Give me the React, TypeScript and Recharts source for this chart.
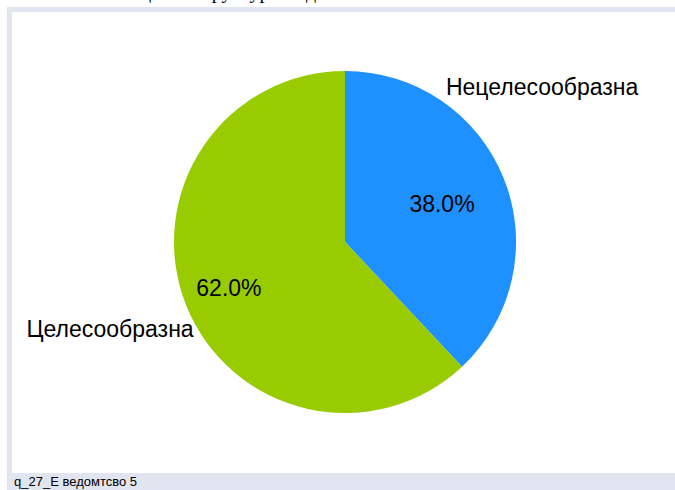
import { PieChart, Pie, Cell } from 'recharts'

const categories = ['Нецелесообразна', 'Целесообразна']
const shares = [38.0, 62.0]
const COLORS = ['#1e90ff', '#99cc00']

const data = categories.map((name, i) => ({ name, value: shares[i] }))

const RAD = Math.PI / 180

// outer label spots, relative to radius
const OUTER = [
  { dx: 0.59, dy: -0.905, anchor: 'start' },
  { dx: -0.885, dy: 0.51, anchor: 'end' },
]
const INNER_R = [0.61, 0.73]

function renderLabel(props: any) {
  const { cx, cy, midAngle, outerRadius, index, value } = props
  const ir = outerRadius * INNER_R[index]
  const ix = cx + ir * Math.cos(-midAngle * RAD)
  const iy = cy + ir * Math.sin(-midAngle * RAD)
  const o = OUTER[index]
  return (
    <g>
      <text x={ix} y={iy} textAnchor="middle" dominantBaseline="central" fontSize={23} fill="#000">
        {value.toFixed(1)}%
      </text>
      <text
        x={cx + o.dx * outerRadius}
        y={cy + o.dy * outerRadius}
        textAnchor={o.anchor}
        dominantBaseline="central"
        fontSize={23}
        fill="#000"
      >
        {categories[index]}
      </text>
    </g>
  )
}

export default function App() {
  return (
    <div style={{ position: 'absolute', left: 0, top: 0, width: 675, height: 490, background: '#fff', overflow: 'hidden', fontFamily: 'Arial, "Liberation Sans", sans-serif' }}>
      <div style={{ position: 'absolute', left: 0, top: -20, width: 500, textAlign: 'center', fontFamily: '"Liberation Serif", serif', fontSize: 20, color: '#000', whiteSpace: 'nowrap' }}>
        Оценка структуры ведомства
      </div>
      <div style={{ position: 'absolute', left: 7, top: 7, width: 668, height: 5, background: '#e1e5ef' }} />
      <div style={{ position: 'absolute', left: 7, top: 7, width: 5, height: 470, background: '#e1e5ef' }} />
      <div style={{ position: 'absolute', left: 7, top: 473, width: 668, height: 17, background: '#e1e5ef', fontSize: 13, lineHeight: '17px', paddingLeft: 7, boxSizing: 'border-box', color: '#000' }}>
        q_27_E ведомтсво 5
      </div>
      <div style={{ position: 'absolute', left: 0, top: 0 }}>
        <PieChart width={675} height={490} margin={{ top: 0, right: 0, bottom: 0, left: 0 }} style={{ fontFamily: 'Arial, "Liberation Sans", sans-serif' }}>
          <Pie
            data={data}
            dataKey="value"
            nameKey="name"
            cx={345}
            cy={242}
            outerRadius={171}
            startAngle={90}
            endAngle={-270}
            stroke="none"
            label={renderLabel}
            labelLine={false}
            isAnimationActive={false}
          >
            {data.map((_, i) => (
              <Cell key={i} fill={COLORS[i]} />
            ))}
          </Pie>
        </PieChart>
      </div>
    </div>
  )
}
